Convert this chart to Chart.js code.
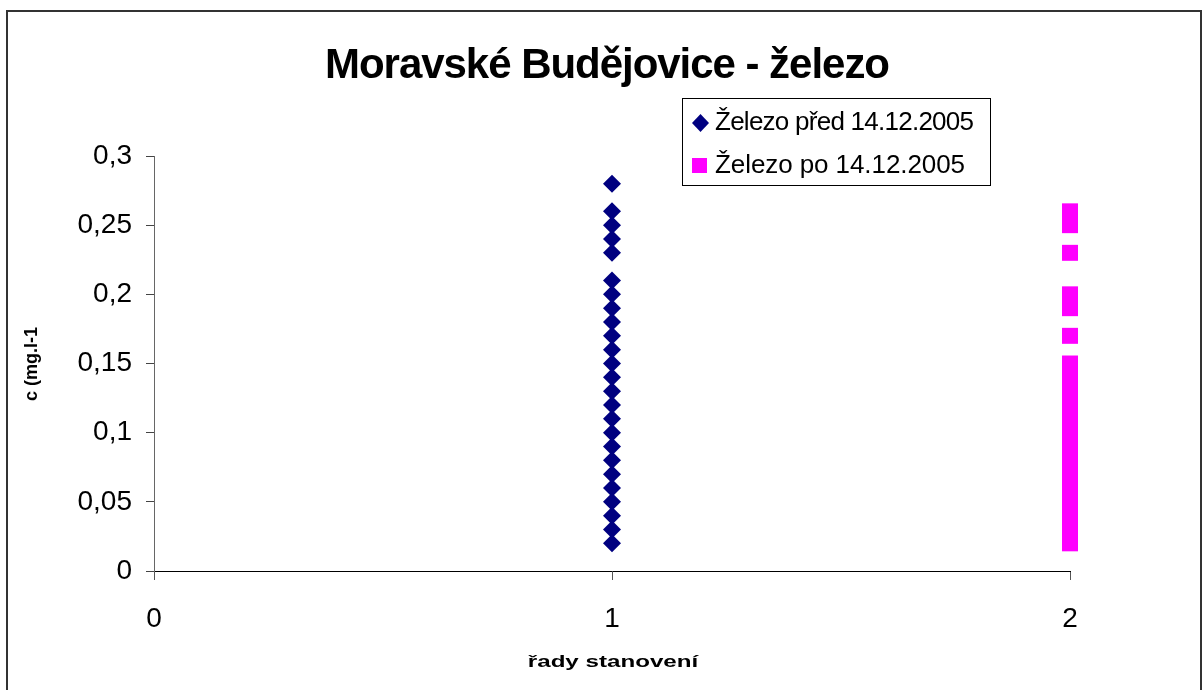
<!DOCTYPE html>
<html>
<head>
<meta charset="utf-8">
<script src="https://cdn.jsdelivr.net/npm/chart.js@4.4.0/dist/chart.umd.min.js"></script>
<style>
  html, body { margin: 0; padding: 0; background: #fff; }
  #wrap { width: 1202px; height: 690px; }
</style>
</head>
<body>
<div id="wrap"><canvas id="chart" width="1202" height="690"></canvas></div>
<script>
// series labels
const seriesNames = ['Železo před 14.12.2005', 'Železo po 14.12.2005'];

// x position (řada stanovení) of each series
const seriesX = [1, 2];

// measured values, mg/l
const zelezoPred = [0.28, 0.26, 0.25, 0.24, 0.23, 0.21, 0.20, 0.19, 0.18, 0.17, 0.16,
    0.15, 0.14, 0.13, 0.12, 0.11, 0.10, 0.09, 0.08, 0.07, 0.06, 0.05, 0.04, 0.03, 0.02];
const zelezoPo = [0.26, 0.25, 0.23, 0.20, 0.19, 0.17, 0.15, 0.14, 0.13, 0.12, 0.11,
    0.10, 0.09, 0.08, 0.07, 0.06, 0.05, 0.04, 0.03, 0.02];

// axis ticks
const xTicks = [0, 1, 2];
const yTicks = [0, 0.05, 0.1, 0.15, 0.2, 0.25, 0.3];

const FONT = '"Liberation Sans", Arial, sans-serif';

function toPoints(x, values) {
    return values.map(v => ({ x: x, y: v }));
}

// draw text spread to a given width starting at x (Excel spacing differs a bit)
function fitText(ctx, text, x, y, width) {
    ctx.letterSpacing = '0px';
    const w = ctx.measureText(text).width;
    const n = [...text].length;
    ctx.letterSpacing = ((width - w) / (n - 1)) + 'px';
    ctx.textAlign = 'left';
    ctx.fillText(text, x, y);
    ctx.letterSpacing = '0px';
}

// Frame, title, axis titles and legend box like the Excel original
const decorPlugin = {
    id: 'decor',
    afterDraw(chart) {
        const ctx = chart.ctx;
        ctx.save();
        // outer frame
        ctx.strokeStyle = '#333';
        ctx.lineWidth = 2;
        ctx.strokeRect(7, 11, 1194, 690);

        // title
        ctx.fillStyle = '#000';
        ctx.font = 'bold 42px ' + FONT;
        ctx.textBaseline = 'alphabetic';
        fitText(ctx, 'Moravské Budějovice - železo', 325, 78, 565);

        // x axis title (stretched like the original)
        ctx.save();
        ctx.translate(613, 662);
        ctx.scale(1.42, 1);
        ctx.font = 'bold 17px ' + FONT;
        ctx.textAlign = 'center';
        ctx.textBaseline = 'middle';
        ctx.fillText('řady stanovení', 0, 0);
        ctx.restore();

        // y axis title
        ctx.save();
        ctx.translate(32, 364);
        ctx.rotate(-Math.PI / 2);
        ctx.font = 'bold 18px ' + FONT;
        ctx.textAlign = 'center';
        ctx.textBaseline = 'middle';
        ctx.fillText('c (mg.l-1', 0, 0);
        ctx.restore();

        // legend
        ctx.strokeStyle = '#000';
        ctx.lineWidth = 1;
        ctx.strokeRect(682.5, 98.5, 308, 87);
        ctx.font = '26px ' + FONT;
        ctx.textBaseline = 'alphabetic';
        const rows = [123, 165.5];
        const rowWidths = [259, 250];
        chart.data.datasets.forEach((ds, i) => {
            const y = rows[i];
            ctx.fillStyle = ds.backgroundColor;
            ctx.beginPath();
            if (ds.pointStyle === 'rectRot') {
                ctx.moveTo(700.5, y - 9);
                ctx.lineTo(709, y);
                ctx.lineTo(700.5, y + 9);
                ctx.lineTo(692, y);
                ctx.closePath();
            } else {
                ctx.rect(692, y - 7.5, 15, 15);
            }
            ctx.fill();
            ctx.fillStyle = '#000';
            fitText(ctx, ds.label, 715, y + 7, rowWidths[i]);
        });
        ctx.restore();
    }
};

new Chart(document.getElementById('chart'), {
    type: 'scatter',
    data: {
        datasets: [
            {
                label: seriesNames[0],
                data: toPoints(seriesX[0], zelezoPred),
                pointStyle: 'rectRot',
                pointRadius: 9,
                pointHoverRadius: 9,
                backgroundColor: '#000080',
                borderColor: '#000080',
                borderWidth: 0,
                clip: false
            },
            {
                label: seriesNames[1],
                data: toPoints(seriesX[1], zelezoPo),
                pointStyle: 'rect',
                pointRadius: 11.3,
                pointHoverRadius: 11.3,
                backgroundColor: '#ff00ff',
                borderColor: '#ff00ff',
                borderWidth: 0,
                clip: false
            }
        ]
    },
    options: {
        responsive: false,
        animation: false,
        layout: { padding: { top: 156, right: 132, bottom: 0, left: 0 } },
        plugins: {
            legend: { display: false },
            title: { display: false },
            tooltip: { enabled: false }
        },
        scales: {
            x: {
                type: 'linear',
                min: 0,
                max: 2,
                afterBuildTicks: s => { s.ticks = xTicks.map(v => ({ value: v })); },
                afterFit: s => { s.height = 119; },
                border: { color: '#000', width: 1 },
                grid: { drawOnChartArea: false, tickLength: 9, color: '#555' },
                ticks: {
                    color: '#000',
                    padding: 22,
                    font: { family: FONT, size: 28 }
                }
            },
            y: {
                type: 'linear',
                min: 0,
                max: 0.3,
                afterBuildTicks: s => { s.ticks = yTicks.map(v => ({ value: v })); },
                afterFit: s => { s.width = 154; },
                border: { color: '#666', width: 1 },
                grid: { drawOnChartArea: false, tickLength: 8, color: '#444' },
                ticks: {
                    color: '#000',
                    padding: 14,
                    font: { family: FONT, size: 28 },
                    callback: v => String(Number(v.toFixed(2))).replace('.', ',')
                }
            }
        }
    },
    plugins: [decorPlugin]
});
</script>
</body>
</html>
